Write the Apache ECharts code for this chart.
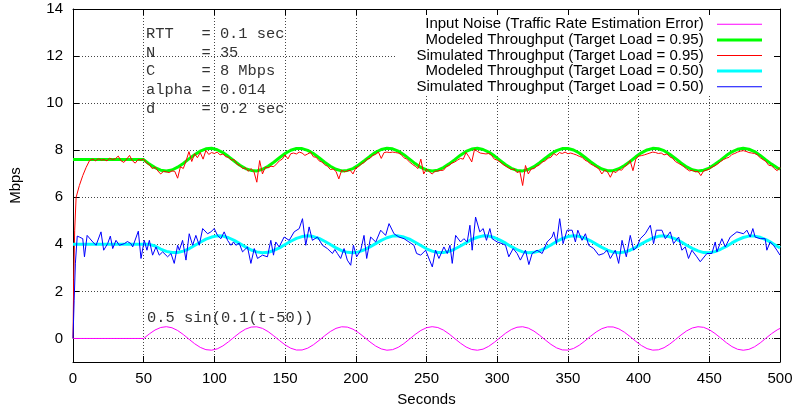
<!DOCTYPE html>
<html>
<head>
<meta charset="utf-8">
<script src="https://cdn.jsdelivr.net/npm/echarts@6/dist/echarts.min.js"></script>
<style>
html, body { margin: 0; padding: 0; background: #fff; }
#chart { width: 797px; height: 412px; }
</style>
</head>
<body>
<div id="chart"></div>
<script>
// Time grid (seconds) shared by the input noise and both modeled curves
const modelT = [0,
  50,54,58,62,66,70,74,78,82,86,90,94,98,102,106,110,114,118,122,126,
  130,134,138,142,146,150,154,158,162,166,170,174,178,182,186,190,194,198,202,206,
  210,214,218,222,226,230,234,238,242,246,250,254,258,262,266,270,274,278,282,286,
  290,294,298,302,306,310,314,318,322,326,330,334,338,342,346,350,354,358,362,366,
  370,374,378,382,386,390,394,398,402,406,410,414,418,422,426,430,434,438,442,446,
  450,454,458,462,466,470,474,478,482,486,490,494,498,500];

// Input noise: 0.5 sin(0.1(t-50)) switched on at t = 50 s
const noiseIn = [0,
  0,.195,.359,.466,.5,.455,.338,.168,-.029,-.222,-.379,-.476,-.498,-.442,-.316,-.140,.058,.247,.397,.484,
  .495,.428,.292,.111,-.087,-.272,-.414,-.491,-.489,-.412,-.268,-.083,.116,.296,.430,.496,.483,.394,.244,.054,
  -.145,-.319,-.444,-.499,-.475,-.376,-.218,-.025,.172,.341,.457,.5,.465,.356,.191,-.005,-.199,-.362,-.468,-.5,
  -.453,-.334,-.164,.034,.225,.381,.477,.498,.440,.313,.136,-.063,-.251,-.400,-.486,-.494,-.424,-.289,-.108,.092,
  .276,.417,.492,.489,.409,.265,.079,-.120,-.300,-.432,-.496,-.482,-.392,-.240,-.050,.148,.323,.446,.499,.473,
  .373,.213,.021,-.176,-.345,-.459,-.5,-.463,-.353,-.188,.009,.203,.365,.426];

// Modeled throughput, target load 0.95 (Mbps)
const model95 = [7.6,
  7.6,7.41,7.26,7.15,7.12,7.16,7.28,7.44,7.63,7.81,7.96,8.06,8.08,8.02,7.90,7.73,7.54,7.36,7.22,7.14,
  7.12,7.19,7.32,7.49,7.68,7.86,8.00,8.07,8.07,7.99,7.86,7.68,7.49,7.32,7.19,7.12,7.14,7.22,7.37,7.55,
  7.74,7.91,8.03,8.08,8.06,7.96,7.81,7.62,7.43,7.27,7.16,7.12,7.15,7.26,7.42,7.60,7.79,7.95,8.05,8.08,
  8.03,7.92,7.76,7.57,7.38,7.23,7.14,7.12,7.18,7.30,7.47,7.66,7.84,7.98,8.07,8.07,8.01,7.88,7.70,7.51,
  7.34,7.20,7.13,7.13,7.21,7.35,7.52,7.72,7.89,8.01,8.08,8.06,7.98,7.83,7.65,7.46,7.29,7.17,7.12,7.15,
  7.24,7.40,7.58,7.77,7.93,8.04,8.08,8.04,7.94,7.78,7.59,7.41,7.25,7.19];

// Modeled throughput, target load 0.50 (Mbps)
const model50 = [4.0,
  4.0,4.0,3.93,3.80,3.70,3.65,3.65,3.71,3.81,3.95,4.09,4.22,4.31,4.36,4.35,4.28,4.17,4.03,3.89,3.76,
  3.68,3.64,3.66,3.74,3.85,3.99,4.13,4.25,4.33,4.36,4.33,4.25,4.13,3.99,3.85,3.73,3.66,3.64,3.68,3.77,
  3.89,4.03,4.17,4.28,4.35,4.36,4.31,4.22,4.09,3.95,3.81,3.71,3.65,3.65,3.70,3.80,3.93,4.07,4.21,4.30,
  4.36,4.35,4.29,4.18,4.05,3.90,3.78,3.68,3.64,3.66,3.72,3.84,3.97,4.12,4.24,4.33,4.36,4.34,4.26,4.15,
  4.01,3.87,3.75,3.67,3.64,3.67,3.75,3.87,4.02,4.15,4.27,4.34,4.36,4.32,4.23,4.11,3.96,3.83,3.72,3.65,
  3.64,3.69,3.79,3.91,4.06,4.19,4.29,4.35,4.35,4.30,4.20,4.07,3.92,3.85];

// Simulated throughput, target load 0.95
const sim95T = [0,0.5,1.2,2.2,4.5,6.9,9.3,11.7,
  14,16,18,20,22,24,26,28,30,32,34,36,38,40,42,44,46,48,
  50,52,54,56,58,60,62,64,66,68,70,72,74,76,78,80,82,84,86,88,
  90,92,94,96,98,100,102,104,106,108,110,112,114,116,118,120,122,124,126,128,
  130,132,134,136,138,140,142,144,146,148,150,152,154,156,158,160,162,164,166,168,
  170,172,174,176,178,180,182,184,186,188,190,192,194,196,198,200,202,204,206,208,
  210,212,214,216,218,220,222,224,226,228,230,232,234,236,238,240,242,244,246,248,
  250,252,254,256,258,260,262,264,266,268,270,272,274,276,278,280,282,284,286,288,
  290,292,294,296,298,300,302,304,306,308,310,312,314,316,318,320,322,324,326,328,
  330,332,334,336,338,340,342,344,346,348,350,352,354,356,358,360,362,364,366,368,
  370,372,374,376,378,380,382,384,386,388,390,392,394,396,398,400,402,404,406,408,
  410,412,414,416,418,420,422,424,426,428,430,432,434,436,438,440,442,444,446,448,
  450,452,454,456,458,460,462,464,466,468,470,472,474,476,478,480,482,484,486,488,
  490,492,494,496,498,500];
const sim95V = [0,2.5,4.6,6.0,6.5,6.92,7.27,7.56,
  7.62,7.55,7.64,7.58,7.60,7.55,7.66,7.60,7.64,7.75,7.55,7.48,7.62,7.78,7.55,7.45,7.60,7.58,
  7.62,7.45,7.38,7.22,7.28,7.12,6.99,7.10,7.08,7.05,7.12,7.10,6.81,7.30,7.22,7.55,7.94,7.52,7.85,7.68,
  7.90,7.62,7.99,7.82,7.90,7.86,7.92,7.80,7.84,7.72,7.70,7.58,7.60,7.40,7.35,7.22,7.25,7.10,7.22,7.08,
  6.64,7.56,6.99,7.28,7.25,7.32,7.30,7.42,7.55,7.62,7.80,7.63,7.85,7.88,7.84,7.92,7.88,7.78,7.84,7.91,
  7.72,7.70,7.55,7.50,7.38,7.32,7.18,7.20,7.10,6.78,7.15,7.08,7.12,7.15,6.99,7.25,7.30,7.42,7.48,7.62,
  7.65,7.78,7.82,7.92,7.65,7.90,7.92,7.90,7.92,7.90,7.88,7.82,7.68,7.62,7.50,7.40,7.32,7.22,7.62,6.99,
  7.20,7.08,6.99,7.10,7.12,7.14,7.15,7.30,7.35,7.45,7.50,7.58,7.65,7.62,7.90,7.72,7.50,8.04,7.95,7.88,
  7.86,7.84,7.86,7.78,7.62,7.58,7.50,7.40,7.32,7.25,7.18,7.20,7.05,7.10,6.50,7.35,6.99,7.20,7.22,7.32,
  7.38,7.50,7.55,7.66,7.70,7.86,7.78,7.90,7.86,7.92,7.85,7.88,7.84,7.80,7.74,7.70,7.58,7.52,7.42,7.35,
  7.28,7.20,6.99,7.15,7.08,6.85,7.10,7.05,7.18,7.15,7.30,7.38,7.56,7.13,7.62,7.75,7.77,7.80,7.84,7.88,
  7.92,7.90,7.86,7.88,7.80,7.84,7.72,7.66,7.52,7.45,7.38,7.30,7.20,7.12,7.15,7.08,7.10,6.92,7.12,7.15,
  7.20,7.28,7.34,7.42,7.52,7.60,7.66,7.70,7.82,7.86,7.92,7.96,7.98,7.95,7.90,7.88,7.86,7.80,7.68,7.60,
  7.52,7.36,7.34,7.22,7.13,7.27];

// Simulated throughput, target load 0.50
const sim50T = [0,0.8,1.7,3,4.5,6.9,8.1,10,14,16.3,19.8,21.7,24.5,26.4,28.1,30.4,32.8,36.3,38.5,41,42.2,46.2,48.1,
  50.4,52.3,54,56.3,58.7,61,63.4,66.9,69.3,71.6,74,75.2,77.5,79.9,82.2,84.6,86.9,89.3,91.7,95.2,97.5,99.9,
  102.2,104.6,106.9,109.3,111.7,113.5,115.2,117.5,119.9,123.4,125.8,128.2,130.5,134,137.5,139.9,141.8,143.4,145.8,149.3,
  152.9,156.4,160,162.3,164.6,167,169.3,172.9,176.4,179.9,183.5,185.2,187,189.3,191.7,194,196.4,198.3,200.6,203.5,
  205.8,207.7,210.5,214.1,217.6,221.1,223.5,227,230.5,234.1,237.6,241.1,243,245.9,249.4,254.1,256.4,258.8,262.3,264.7,
  266.6,268.2,270.6,274.1,276.4,278.8,280.7,282.3,284.7,287.7,290.1,292.4,294.8,296.4,300,303.5,305.9,308.2,311.3,314.1,
  316.4,320,322.4,324.7,328.2,331.8,335.3,338.8,340,341.9,344.2,346.6,349.4,353,355.3,357,360,362.4,364.7,368.3,
  371.8,375.3,377.7,380,383.5,385.9,388.3,391.3,394.1,396.5,398.8,401.2,404.7,408.3,410.6,412.5,416.5,418.9,422.4,424.7,
  428.3,430.6,433,435.3,437.7,441.2,443.6,448.3,451.8,454.2,455.4,458.9,461.3,464.8,469.5,474.2,476.6,478.9,480.8,482.4,
  486,489.5,490.7,493,495.4,497.8,500];
const sim50V = [0,1.6,3.2,4.35,4.31,4.24,3.47,4.38,4.10,3.96,4.53,3.75,4.03,4.35,3.82,4.17,3.96,4.03,4.12,4.03,3.89,4.56,3.40,
  4.17,3.75,4.17,3.54,3.89,3.54,3.68,3.47,3.61,3.19,3.96,3.75,4.17,3.33,4.45,3.96,4.38,3.96,4.67,4.45,4.53,4.67,
  4.38,4.24,4.53,4.17,3.96,4.10,3.96,4.05,3.68,3.89,3.19,3.82,3.40,3.54,3.47,4.17,3.54,4.10,3.89,4.31,
  4.17,4.53,4.67,5.09,3.96,4.74,4.17,4.31,3.96,3.82,3.61,3.78,3.61,3.40,3.82,3.33,3.11,3.96,3.47,3.75,
  4.38,3.40,4.31,4.10,4.60,4.38,4.88,4.45,4.31,4.24,4.10,3.96,3.61,3.54,3.75,3.04,3.75,3.40,3.89,3.61,
  3.96,3.19,4.38,4.10,4.24,4.10,4.81,3.75,5.16,4.53,4.67,4.17,4.67,4.24,4.10,4.03,3.96,3.47,3.82,3.61,
  3.33,3.75,3.14,3.61,3.75,3.61,4.10,4.31,4.53,4.03,5.09,4.03,4.60,4.60,4.10,4.60,4.17,4.45,3.96,3.82,
  3.54,3.61,3.75,3.40,3.75,3.19,4.17,3.47,4.38,3.75,3.89,4.24,4.45,4.81,4.03,4.60,4.60,4.24,4.53,4.03,
  4.31,3.75,3.89,3.40,3.75,3.47,3.26,3.61,3.61,4.10,3.68,4.24,3.89,4.31,4.53,4.45,4.60,4.31,4.67,4.31,
  4.24,4.24,3.75,4.10,3.96,3.75,3.54];

const seriesNames = [
  'Input Noise (Traffic Rate Estimation Error)',
  'Modeled Throughput (Target Load = 0.95)',
  'Simulated Throughput (Target Load = 0.95)',
  'Modeled Throughput (Target Load = 0.50)',
  'Simulated Throughput (Target Load = 0.50)'
];
const paramLines = ['RTT   = 0.1 sec', 'N     = 35', 'C     = 8 Mbps', 'alpha = 0.014', 'd     = 0.2 sec'];
const noiseLabel = '0.5 sin(0.1(t-50))';
const xTicks = { min: 0, max: 500, step: 50 };
const yTicks = { min: -1, max: 14, step: 2 };

const SANS = '"Liberation Sans", Arial, Helvetica, sans-serif';
const MONO = '"Liberation Mono", "Courier New", monospace';
const colors = ['#ff00ff', '#00ff00', '#ff0000', '#00ffff', '#0000ff'];
const widths = [1, 3, 1, 3, 1];

const zip = (ts, vs) => ts.map((t, i) => [t, vs[i]]);
const seriesData = [
  zip(modelT, noiseIn),
  zip(modelT, model95),
  zip(sim95T, sim95V),
  zip(modelT, model50),
  zip(sim50T, sim50V)
];

const chart = echarts.init(document.getElementById('chart'), null, { renderer: 'canvas' });

const tickStyle = { inside: true, length: 6, lineStyle: { color: '#000', width: 1 } };
const lineStyle = { color: '#000', width: 1 };
const gridLine = { show: true, lineStyle: { color: '#444', width: 1, type: [1, 2] } };

const option = {
  animation: false,
  backgroundColor: '#fff',
  grid: { left: 72, right: 17, top: 9, bottom: 48 },
  xAxis: [
    {
      type: 'value', min: xTicks.min, max: xTicks.max, interval: xTicks.step, position: 'bottom',
      axisLine: { onZero: false, lineStyle },
      axisTick: tickStyle,
      axisLabel: { color: '#000', fontFamily: SANS, fontSize: 15, margin: 9 },
      splitLine: gridLine,
      name: 'Seconds', nameLocation: 'middle', nameGap: 30,
      nameTextStyle: { color: '#000', fontFamily: SANS, fontSize: 15 }
    },
    {
      type: 'value', min: xTicks.min, max: xTicks.max, interval: xTicks.step, position: 'top', z: 3,
      axisLine: { onZero: false, lineStyle },
      axisTick: tickStyle,
      axisLabel: { show: false },
      splitLine: { show: false }
    }
  ],
  yAxis: [
    {
      type: 'value', min: yTicks.min, max: yTicks.max, splitNumber: 7,
      minInterval: yTicks.step, maxInterval: yTicks.step, position: 'left',
      axisLine: { onZero: false, lineStyle },
      axisTick: tickStyle,
      axisLabel: { color: '#000', fontFamily: SANS, fontSize: 15, margin: 10, showMinLabel: false },
      splitLine: gridLine,
      name: 'Mbps', nameLocation: 'middle', nameGap: 50, nameRotate: 90,
      nameTextStyle: { color: '#000', fontFamily: SANS, fontSize: 15 }
    },
    {
      type: 'value', min: yTicks.min, max: yTicks.max, splitNumber: 7,
      minInterval: yTicks.step, maxInterval: yTicks.step, position: 'right', z: 3,
      axisLine: { onZero: false, lineStyle },
      axisTick: tickStyle,
      axisLabel: { show: false },
      splitLine: { show: false }
    }
  ],
  // one key row per series: text right-aligned, line sample to its right
  legend: seriesNames.map((n, i) => ({
    data: [{ name: n, icon: 'rect' }],
    top: 16.8 + 15.6 * i,
    right: 35,
    align: 'right',
    orient: 'horizontal',
    padding: 0,
    itemWidth: 45,
    itemHeight: widths[i],
    selectedMode: false,
    formatter: '{name}  ',
    textStyle: { color: '#000', fontFamily: SANS, fontSize: 15 }
  })),
  graphic: [
    // opaque key box
    { type: 'rect', z: 1, silent: true, shape: { x: 395, y: 10, width: 384, height: 86 }, style: { fill: '#fff' } },
    ...paramLines.map((s, i) => ({
      type: 'text', z: 5, silent: true, x: 146, y: 34 + 18.65 * i,
      style: { text: s, font: '15.4px ' + MONO, fill: '#333', verticalAlign: 'middle' }
    })),
    {
      type: 'text', z: 5, silent: true, x: 147, y: 317.5,
      style: { text: noiseLabel, font: '15.4px ' + MONO, fill: '#333', verticalAlign: 'middle' }
    }
  ],
  series: seriesNames.map((n, i) => ({
    type: 'line',
    name: n,
    data: seriesData[i],
    xAxisIndex: 0,
    yAxisIndex: 0,
    symbol: 'none',
    showSymbol: false,
    smooth: false,
    lineStyle: { color: colors[i], width: widths[i] },
    itemStyle: { color: colors[i] },
    emphasis: { disabled: true }
  }))
};

chart.setOption(option);
</script>
</body>
</html>
